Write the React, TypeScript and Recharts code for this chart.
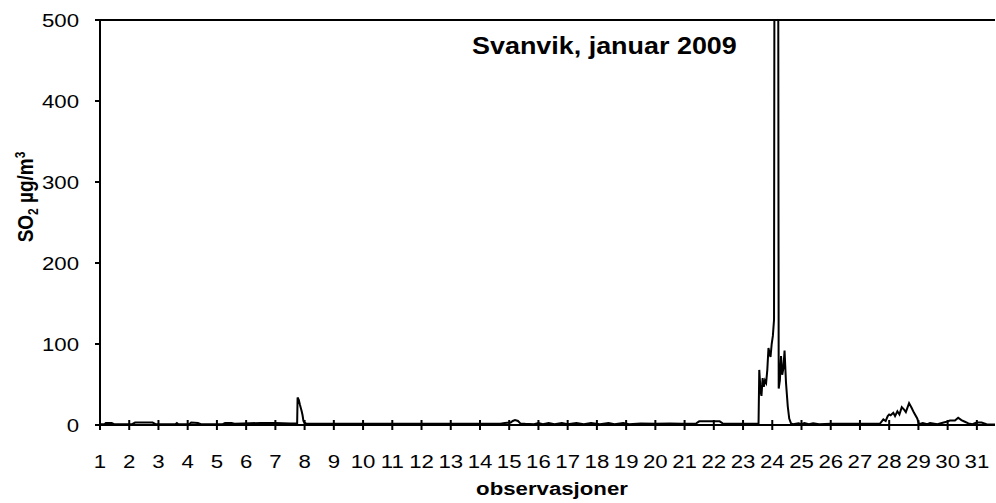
import { LineChart, Line, XAxis, YAxis, ReferenceLine } from "recharts";

// Svanvik, januar 2009 – SO2 (µg/m³), timesverdier, x = dag i måneden
const DAY_TICKS = [
  1, 2, 3, 4, 5, 6, 7, 8, 9, 10, 11, 12, 13, 14, 15, 16, 17, 18, 19, 20, 21, 22, 23, 24, 25, 26, 27, 28,
  29, 30, 31,
];
const Y_TICKS = [0, 100, 200, 300, 400, 500];

const OBS_DAY = [
  1.0, 1.15, 1.2, 1.4, 1.48, 2.1, 2.2, 2.8, 2.9, 3.58, 3.63, 3.68, 4.05, 4.12, 4.35, 4.45, 5.2, 5.28, 5.5,
  5.6, 5.9, 6.5, 7.0, 7.5, 7.745, 7.76, 7.8, 7.84, 7.87, 7.9, 7.93, 7.96, 7.99, 8.05, 9.0, 10.0, 11.0,
  12.0, 13.0, 14.0, 14.7, 14.85, 15.05, 15.12, 15.2, 15.3, 15.38, 15.55, 15.85, 16.0, 16.15, 16.35, 16.55,
  16.8, 17.0, 17.3, 17.55, 17.8, 18.1, 18.4, 18.6, 18.9, 19.1, 19.5, 20.0, 20.5, 20.9, 21.4, 21.5, 22.2,
  22.3, 22.8, 23.5, 23.53, 23.555, 23.6, 23.63, 23.67, 23.71, 23.75, 23.79, 23.83, 23.87, 23.91, 23.94,
  23.98, 24.02, 24.06, 24.1, 24.14, 24.18, 24.22, 24.26, 24.3, 24.34, 24.38, 24.42, 24.47, 24.53, 24.58,
  24.64, 24.7, 24.9, 25.0, 25.1, 25.25, 25.4, 25.6, 26.0, 27.0, 27.68, 27.8, 27.88, 27.95, 28.0, 28.05,
  28.14, 28.2, 28.28, 28.35, 28.43, 28.51, 28.57, 28.68, 28.77, 28.85, 28.96, 29.02, 29.15, 29.3, 29.4,
  29.65, 29.8, 29.96, 30.08, 30.25, 30.36, 30.47, 30.59, 30.71, 30.85, 30.99, 31.16, 31.33, 31.62,
];
const SO2 = [
  1, 1, 2.5, 2.5, 1, 1, 3, 3, 1, 1, 2.5, 1, 1, 3, 2.5, 1, 1, 2.5, 2.5,
  1.5, 2, 2.5, 2.5, 2, 2, 34, 31, 25, 21, 17, 12, 5, 3, 2, 1.5, 1.5, 1.5,
  1.5, 1.5, 1.5, 1.5, 2.5, 3, 5, 6, 5, 2, 1.5, 1, 2.5, 1, 2.5, 1,
  2.5, 1, 2.5, 1, 2.5, 1, 2.5, 1, 2.5, 1, 2, 1.5, 2, 1.5, 2, 4.5, 4.5,
  2, 1.5, 1.5, 1.5, 68, 42, 36, 58, 47, 55, 52, 68, 95, 88, 84,
  100, 110, 130, 1400, 1600, 1300, 45, 55, 85, 62, 70, 92, 52, 23, 8,
  2, 1, 2, 1, 2.5, 1, 2, 1, 1.5, 1.5, 1.5, 7, 5, 11, 13, 12,
  15, 11, 17, 13, 22, 19, 16, 27, 21, 15, 8, 1, 2.5, 1, 2.5,
  1, 2.5, 4, 5.5, 5.5, 9, 6, 4, 2, 1, 3, 3, 1, 0.5,
];

const data = OBS_DAY.map((d, i) => ({ dag: d, so2: SO2[i] }));

const FONT = "'Liberation Sans', Arial, Helvetica, sans-serif";
const SX = 1.17; // teksten i originalen er strukket litt på bredden
const INK = "#000";

function DayTick({ x, y, payload }: any) {
  return (
    <g>
      <line x1={x} x2={x} y1={y - 5} y2={y + 5} stroke={INK} strokeWidth={2} />
      <text
        transform={`translate(${x},${y + 43}) scale(${SX},1)`}
        textAnchor="middle"
        fontFamily={FONT}
        fontSize={19}
        fill={INK}
      >
        {payload.value}
      </text>
    </g>
  );
}

function ValueTick({ x, y, payload }: any) {
  return (
    <text
      transform={`translate(${x},${y + 6.7}) scale(${SX},1)`}
      textAnchor="end"
      fontFamily={FONT}
      fontSize={19}
      fill={INK}
    >
      {payload.value}
    </text>
  );
}

function XTitle() {
  return (
    <text
      transform={`translate(552,495) scale(${SX},1)`}
      textAnchor="middle"
      fontFamily={FONT}
      fontSize={19}
      fontWeight="bold"
      fill={INK}
    >
      observasjoner
    </text>
  );
}

function YTitle() {
  return (
    <text
      transform={`translate(33,197) scale(${SX},1) rotate(-90)`}
      textAnchor="middle"
      fontFamily={FONT}
      fontSize={19}
      fontWeight="bold"
      fill={INK}
    >
      SO
      <tspan fontSize={12} dy={4}>
        2
      </tspan>
      <tspan dy={-4}> µg/m</tspan>
      <tspan fontSize={12} dy={-7}>
        3
      </tspan>
    </text>
  );
}

export default function App() {
  return (
    <div style={{ position: "absolute", left: 0, top: 0, width: 996, height: 503, background: "#fff" }}>
      <LineChart width={996} height={503} data={data} margin={{ top: 20, right: 1, bottom: 0, left: 0 }}>
        <XAxis
          dataKey="dag"
          type="number"
          domain={[1, 31.62]}
          ticks={DAY_TICKS}
          interval={0}
          allowDataOverflow
          height={78}
          tickSize={0}
          tickMargin={0}
          tickLine={false}
          axisLine={{ stroke: INK, strokeWidth: 2 }}
          tick={<DayTick />}
          label={<XTitle />}
        />
        <YAxis
          type="number"
          domain={[0, 500]}
          ticks={Y_TICKS}
          allowDataOverflow
          width={100}
          tickSize={5}
          tickMargin={16}
          tickLine={{ stroke: INK, strokeWidth: 2 }}
          axisLine={{ stroke: INK, strokeWidth: 2 }}
          tick={<ValueTick />}
          label={<YTitle />}
        />
        <ReferenceLine y={500} stroke={INK} strokeWidth={2} />
        <Line
          type="linear"
          dataKey="so2"
          stroke={INK}
          strokeWidth={2}
          dot={false}
          activeDot={false}
          isAnimationActive={false}
        />
      </LineChart>
      <div
        style={{
          position: "absolute",
          left: 472,
          top: 33,
          fontFamily: FONT,
          fontSize: 23,
          fontWeight: "bold",
          color: INK,
          whiteSpace: "nowrap",
          lineHeight: "26px",
          transform: `scaleX(${SX})`,
          transformOrigin: "left top",
        }}
      >
        Svanvik, januar 2009
      </div>
    </div>
  );
}
